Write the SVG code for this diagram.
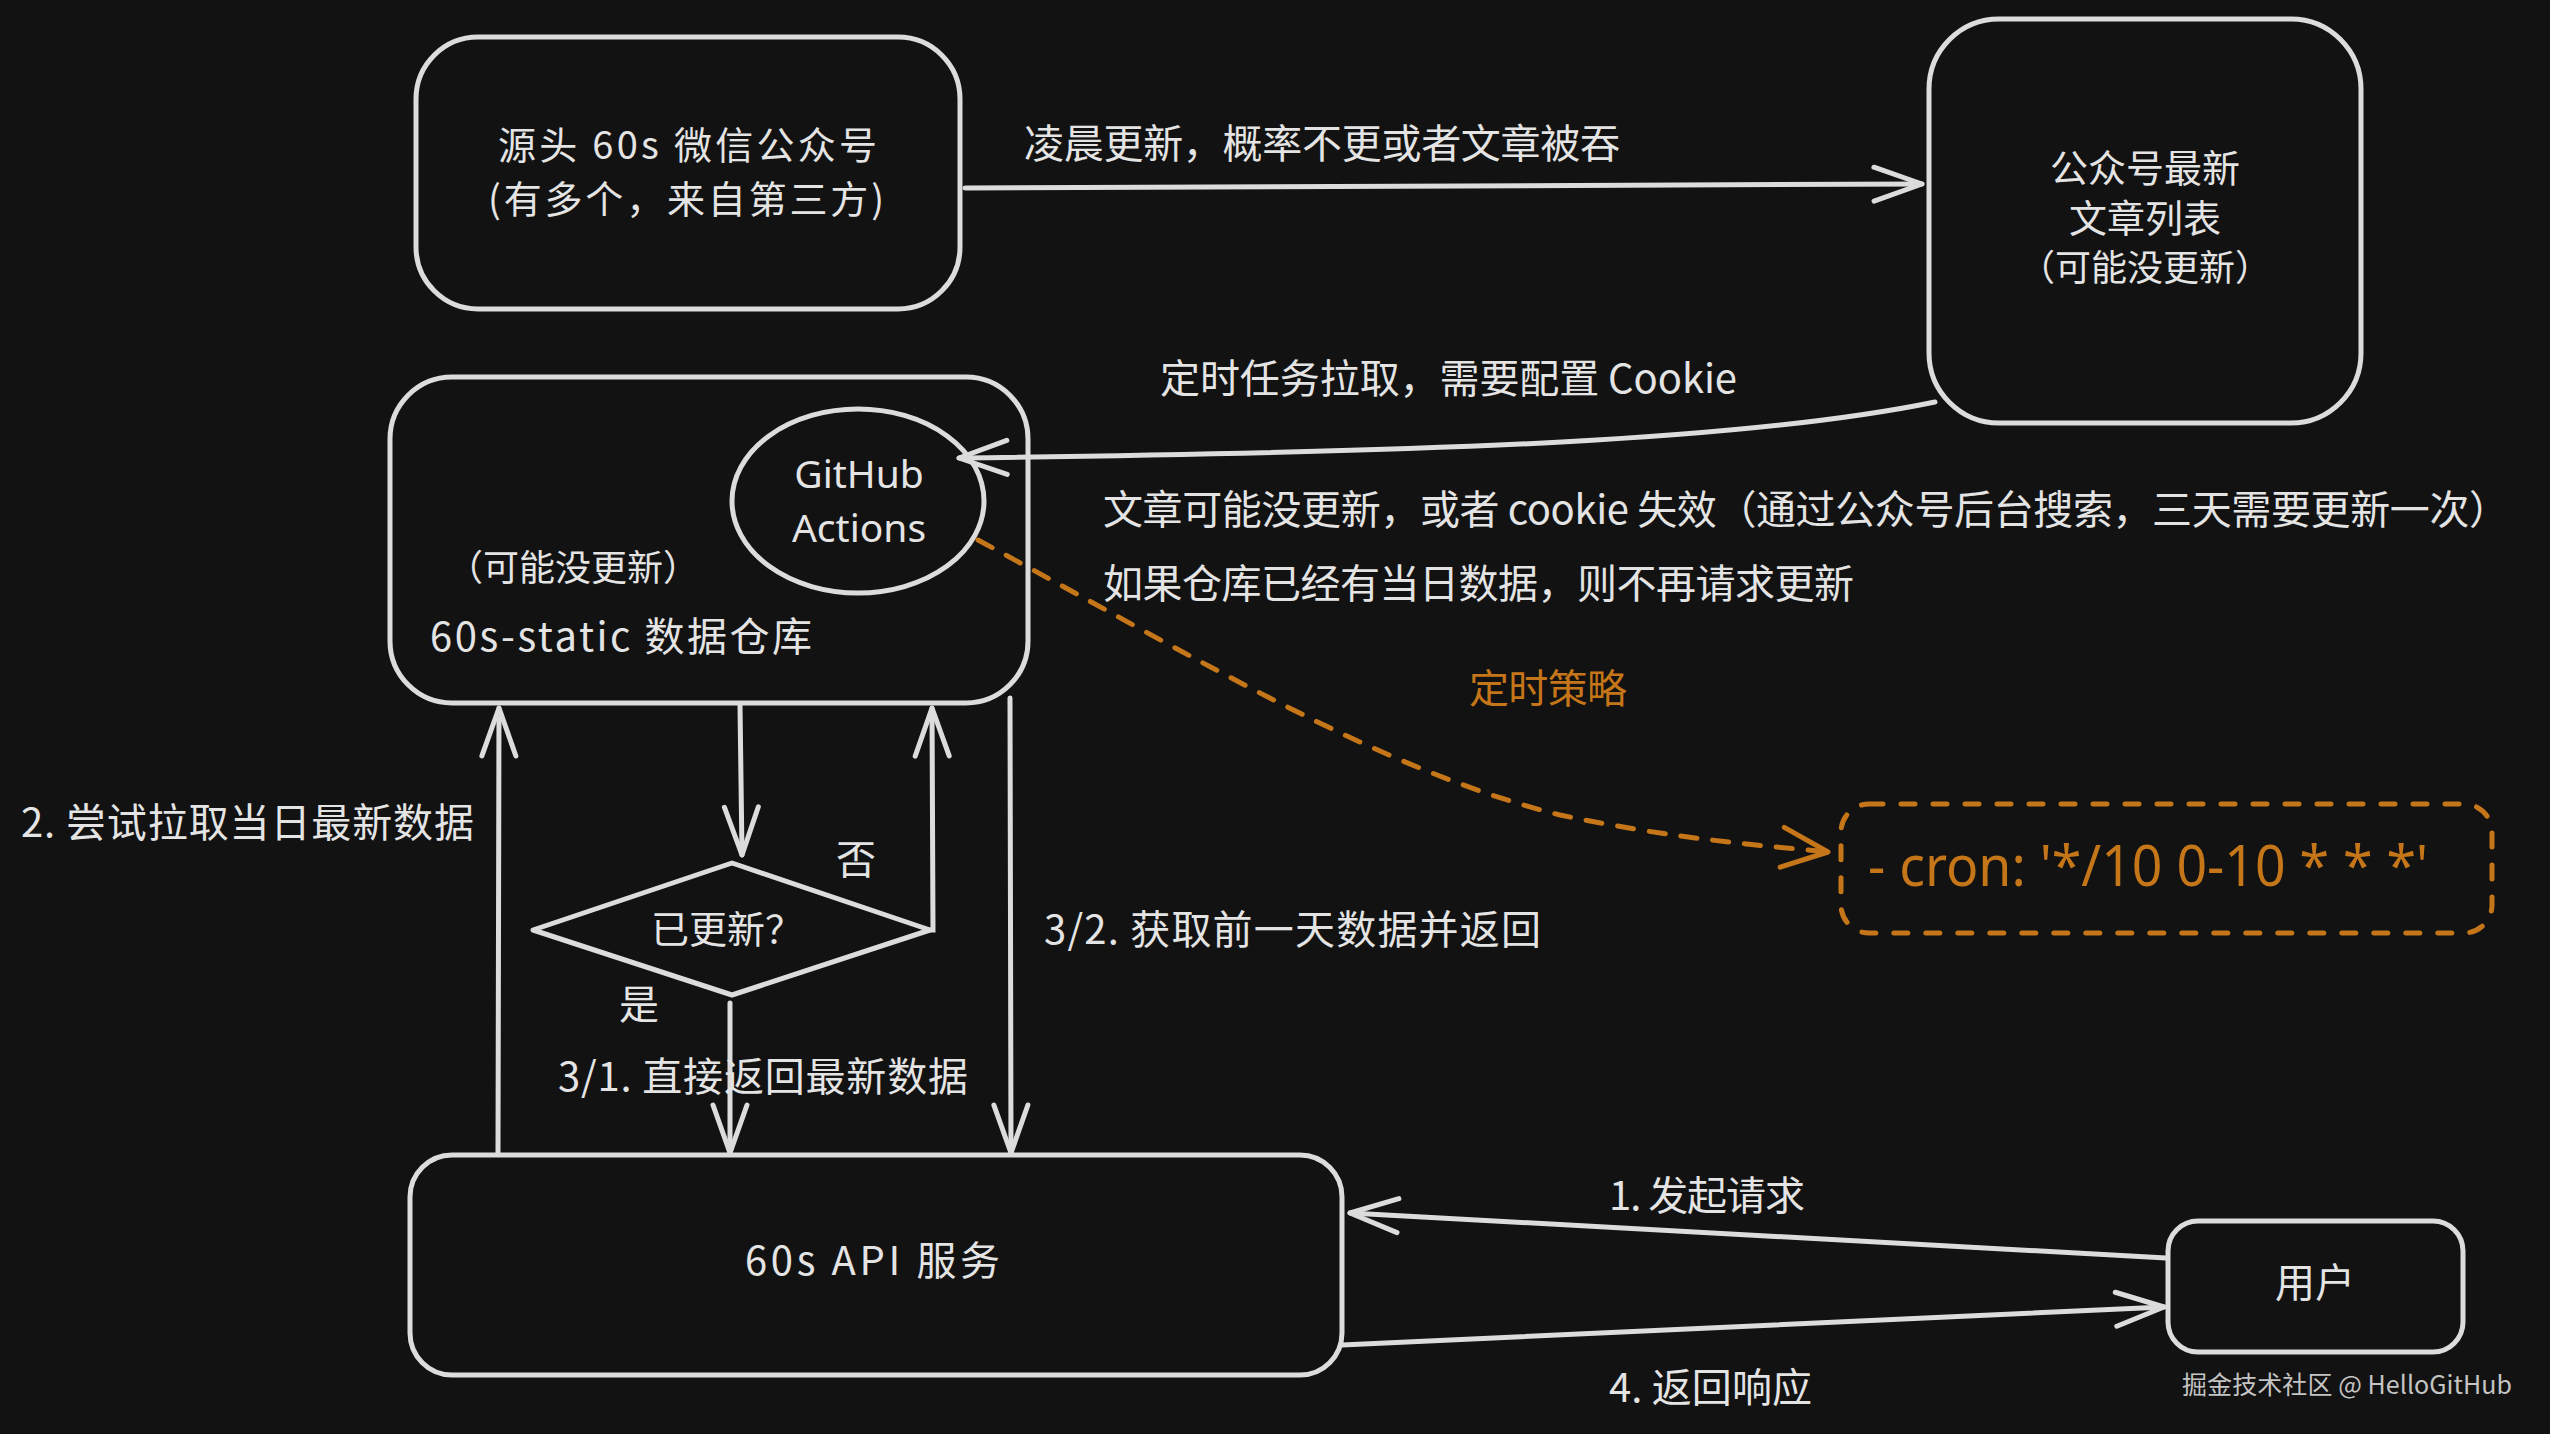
<svg xmlns="http://www.w3.org/2000/svg" width="2550" height="1434" viewBox="0 0 2550 1434">
<defs>
<style>
.bx{fill:#121212;stroke:#dcdcdc;stroke-width:5;stroke-linejoin:round}
.ln{fill:none;stroke:#dcdcdc;stroke-width:5;stroke-linecap:round}
.t{font-family:"Noto Sans CJK SC","Noto Sans",sans-serif;font-size:40px;fill:#e4e4e4;dominant-baseline:central}
.c{text-anchor:middle}
.or{fill:#c57619}
</style>
<marker id="ah" viewBox="-60 -30 70 60" refX="0" refY="0" markerWidth="70" markerHeight="60" orient="auto" markerUnits="userSpaceOnUse">
<path d="M-48,-17 L0,0 L-48,17" fill="none" stroke="#dcdcdc" stroke-width="5" stroke-linecap="round" stroke-linejoin="round"/>
</marker>
<marker id="aho" viewBox="-60 -30 70 60" refX="0" refY="0" markerWidth="70" markerHeight="60" orient="auto" markerUnits="userSpaceOnUse">
<path d="M-46,-20 L0,0 L-46,20" fill="none" stroke="#c57619" stroke-width="5" stroke-linecap="round" stroke-linejoin="round" stroke-dasharray="none"/>
</marker>
</defs>
<rect width="2550" height="1434" fill="#121212"/>

<g id="source">
<rect class="bx" x="416" y="37" width="544" height="272" rx="62"/>
<text class="t" x="498" y="142" textLength="379" lengthAdjust="spacing" style="font-size:38px">源头 60s 微信公众号</text>
<text class="t" x="488" y="196" textLength="396" lengthAdjust="spacing" style="font-size:38px">(有多个，来自第三方)</text>
</g>

<g id="articles">
<rect class="bx" x="1929" y="19" width="432" height="404" rx="70"/>
<text class="t c" x="2145" y="165" style="font-size:38px">公众号最新</text>
<text class="t c" x="2145" y="215" style="font-size:38px">文章列表</text>
<text class="t c" x="2145" y="265" style="font-size:36px">（可能没更新）</text>
</g>

<g id="repo">
<rect class="bx" x="390" y="377" width="638" height="326" rx="62"/>
<text class="t c" x="573" y="565" style="font-size:36px">（可能没更新）</text>
<text class="t" x="430" y="634" textLength="382" lengthAdjust="spacing">60s-static 数据仓库</text>
</g>

<g id="actions">
<ellipse class="bx" cx="858" cy="501" rx="126" ry="92"/>
<text class="t c" x="859" y="472" style="font-family:'Noto Sans',sans-serif;font-size:39px">GitHub</text>
<text class="t c" x="859" y="526" style="font-family:'Noto Sans',sans-serif;font-size:39px">Actions</text>
</g>

<g id="notes">
<text class="t" x="1103" y="507" textLength="1406" lengthAdjust="spacing">文章可能没更新，或者 cookie 失效（通过公众号后台搜索，三天需要更新一次）</text>
<text class="t" x="1103" y="581" textLength="751" lengthAdjust="spacing">如果仓库已经有当日数据，则不再请求更新</text>
</g>

<g id="cron">
<rect x="1841" y="804" width="651" height="129" rx="28" fill="none" stroke="#c57619" stroke-width="5" stroke-dasharray="14 18" stroke-linecap="round"/>
<text class="t or" x="1868" y="864" textLength="560" lengthAdjust="spacingAndGlyphs" style="font-family:'Noto Sans',sans-serif;font-size:56px">- cron: '*/10 0-10 * * *'</text>
</g>

<g id="decision">
<path class="bx" d="M533,930 L732,863 L930,930 L732,995 Z"/>
<text class="t c" x="727" y="926" style="font-size:38px">已更新？</text>
</g>

<g id="api">
<rect class="bx" x="410" y="1155" width="932" height="220" rx="42"/>
<text class="t" x="745" y="1258" textLength="255" lengthAdjust="spacing">60s API 服务</text>
</g>

<g id="user">
<rect class="bx" x="2168" y="1221" width="295" height="131" rx="30"/>
<text class="t c" x="2315" y="1280">用户</text>
</g>

<g id="connectors">
<path class="ln" d="M965,188 L1922,184" marker-end="url(#ah)"/>
<path class="ln" d="M1935,402 C1750,440 1450,452 959,458" marker-end="url(#ah)"/>
<path class="ln" d="M498,1153 L499,708" marker-end="url(#ah)"/>
<path class="ln" d="M740,705 L742,855" marker-end="url(#ah)"/>
<path class="ln" d="M930,930 L933,930 L932,708" marker-end="url(#ah)"/>
<path class="ln" d="M730,1003 L730,1153" marker-end="url(#ah)"/>
<path class="ln" d="M1010,698 L1011,1153" marker-end="url(#ah)"/>
<path class="ln" d="M2166,1258 L1350,1213" marker-end="url(#ah)"/>
<path class="ln" d="M1342,1345 L2164,1307" marker-end="url(#ah)"/>
<path d="M978,540 C1200,660 1380,770 1560,815 C1680,840 1760,845 1828,852" fill="none" stroke="#c57619" stroke-width="5" stroke-linecap="round" stroke-dasharray="16 16" marker-end="url(#aho)"/>
<text class="t" x="1024" y="141" textLength="596" lengthAdjust="spacing">凌晨更新，概率不更或者文章被吞</text>
<text class="t" x="1160" y="376" textLength="577" lengthAdjust="spacing">定时任务拉取，需要配置 Cookie</text>
<text class="t" x="21" y="820" textLength="453" lengthAdjust="spacing">2. 尝试拉取当日最新数据</text>
<text class="t c" x="856" y="857">否</text>
<text class="t c" x="639" y="1002">是</text>
<text class="t" x="558" y="1074" textLength="410" lengthAdjust="spacing">3/1. 直接返回最新数据</text>
<text class="t" x="1044" y="927" textLength="497" lengthAdjust="spacing">3/2. 获取前一天数据并返回</text>
<text class="t" x="1609" y="1193" textLength="196" lengthAdjust="spacing">1. 发起请求</text>
<text class="t" x="1609" y="1385" textLength="203" lengthAdjust="spacing">4. 返回响应</text>
<text class="t or" x="1469" y="686" textLength="158" lengthAdjust="spacing">定时策略</text>
</g>

<text x="2182" y="1383" textLength="330" lengthAdjust="spacing" style="font-family:'Noto Sans CJK SC','Noto Sans',sans-serif;font-size:25px;fill:#c4c4c4;dominant-baseline:central">掘金技术社区 @ HelloGitHub</text>
</svg>
